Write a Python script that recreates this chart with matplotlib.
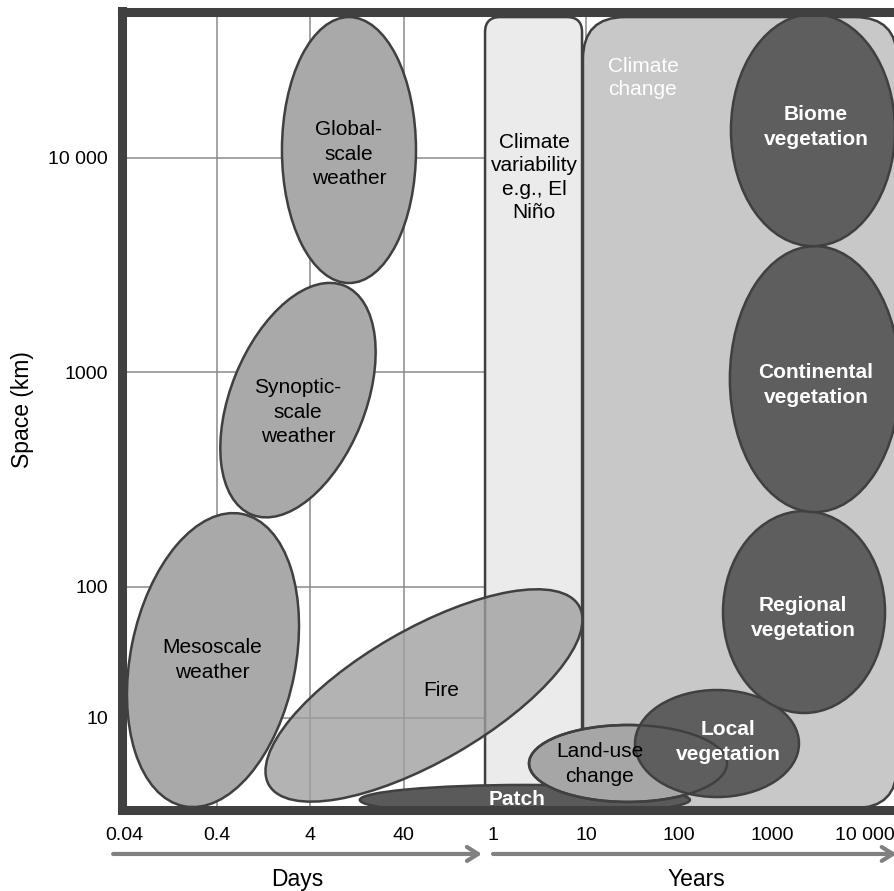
import numpy as np
import matplotlib
matplotlib.use('Agg')
import matplotlib.pyplot as plt
from matplotlib.patches import Ellipse, FancyBboxPatch
from matplotlib.transforms import Affine2D

plt.rcParams['font.family'] = ['Liberation Sans', 'DejaVu Sans']

# time axis: position = decades of days counted from 0.04 days
time_labels = ['0.04', '0.4', '4', '40', '1', '10', '100', '1000', '10 000']
time_days = [0.04, 0.4, 4, 40, 365.25, 3652.5, 36525, 365250, 3652500]
# space axis is only schematic, 10 km sits closer to 100 km than a full decade
space_labels = ['10', '100', '1000', '10 000']
space_pos = [0.39, 1, 2, 3]

# the two climate bands (time decades / space positions)
band_names = ['Climate\nvariability\ne.g., El\nNiño', 'Climate\nchange']
band_left = [3.876, 4.928]
band_right = [4.918, 8.302]
band_bottom = [-0.032, -0.032]
band_top = [3.656, 3.656]
band_text_x = [4.402, 5.573]
band_text_y = [2.908, 3.371]

# processes drawn as ovals
oval_names = ['Global-\nscale\nweather', 'Synoptic-\nscale\nweather', 'Mesoscale\nweather',
              'Patch', 'Fire', 'Land-use\nchange', 'Local\nvegetation',
              'Regional\nvegetation', 'Continental\nvegetation', 'Biome\nvegetation']
oval_x = [2.414, 1.866, 0.953, 4.304, 3.220, 5.412, 6.368, 7.303, 7.420, 7.399]
oval_y = [3.036, 1.870, 0.658, 0.006, 0.493, 0.176, 0.269, 0.882, 1.968, 3.129]
oval_w = [1.440, 2.654, 3.202, 3.546, 3.847, 2.127, 1.762, 1.741, 1.827, 1.762]
oval_h = [2.858, 1.446, 1.773, 0.322, 1.418, 0.827, 1.150, 2.170, 2.858, 2.493]
oval_angle = [0, 68, 78.7, 0, 30, 0, 0, 0, 0, 0]
label_x = [2.414, 1.866, 0.944, 4.220, 3.403, 5.111, 6.486, 7.292, 7.432, 7.432]
label_y = [3.017, 1.814, 0.658, 0.010, 0.515, 0.174, 0.275, 0.854, 1.941, 3.145]

PX_X, PX_Y = 93.07, 214.5   # screen pixels per unit on each axis
EDGE = '#404040'

fig = plt.figure(figsize=(8.95, 8.91), dpi=100)
ax = fig.add_axes([122.5 / 895, 81 / 891, 782.5 / 895, 798.5 / 891])
ax.set_xlim(-0.0193, 8.388)
ax.set_ylim(-0.041, 3.682)

xpos = np.log10(np.array(time_days) / 0.04)
ax.set_xticks(xpos)
ax.set_xticklabels(time_labels, fontsize=14)
ax.set_yticks(space_pos)
ax.set_yticklabels(space_labels, fontsize=14)
ax.tick_params(length=0)
ax.tick_params(axis='x', pad=12)
ax.tick_params(axis='y', pad=10.5)
ax.set_axisbelow(True)
ax.grid(True, color='#8a8a8a', lw=1.1)
for s in ax.spines.values():
    s.set_linewidth(6.5)
    s.set_color(EDGE)
    s.set_zorder(10)


def oval(i, fc, z, fill=True, lw=1.8):
    # sizes are in time-decade units, y squeezed so shapes keep their look on screen
    e = Ellipse((0, 0), oval_w[i], oval_h[i], angle=oval_angle[i],
                facecolor=fc, edgecolor=EDGE, lw=lw, fill=fill, zorder=z)
    e.set_transform(Affine2D().scale(1, PX_X / PX_Y).translate(oval_x[i], oval_y[i]) + ax.transData)
    ax.add_patch(e)


# climate bands
band_fc = ['#ebebeb', '#c8c8c8']
band_r = [0.161, 0.451]
band_tc = ['black', 'white']
for i in range(2):
    b = FancyBboxPatch((band_left[i], band_bottom[i]), band_right[i] - band_left[i],
                       band_top[i] - band_bottom[i],
                       boxstyle='round,pad=0,rounding_size=%f' % band_r[i],
                       mutation_aspect=PX_X / PX_Y,
                       facecolor=band_fc[i], edgecolor=EDGE, lw=1.8, zorder=1)
    ax.add_patch(b)
    ax.text(band_text_x[i], band_text_y[i], band_names[i], ha='center', va='center',
            fontsize=15, color=band_tc[i], linespacing=1.28, zorder=12)

# weather
for i in range(3):
    oval(i, '#a9a9a9', 2)
# patch, fire (see-through), land use
oval(3, '#5a5a5a', 2)
oval(4, (0.62, 0.62, 0.62, 0.78), 3)
oval(5, '#a6a6a6', 3)
# vegetation
for i in range(6, 10):
    oval(i, '#5e5e5e', 4)
# land-use outline stays visible over local vegetation
oval(5, 'none', 5, fill=False)

for i in range(10):
    white = i == 3 or i >= 6
    ax.text(label_x[i], label_y[i], oval_names[i], ha='center', va='center', fontsize=15,
            color='white' if white else 'black', fontweight='bold' if white else 'normal',
            linespacing=1.38, zorder=12)

# time arrows under the axis
arrow = dict(arrowstyle='->,head_length=0.8,head_width=0.5', lw=3, color='#808080',
             shrinkA=0, shrinkB=0)
ax.annotate('', xy=(3.843, -0.246), xytext=(-0.12, -0.246), arrowprops=arrow,
            annotation_clip=False)
ax.annotate('', xy=(8.30, -0.246), xytext=(3.962, -0.246), arrowprops=arrow,
            annotation_clip=False)
ax.text(1.853, -0.363, 'Days', ha='center', va='center', fontsize=16.5, clip_on=False)
ax.text(6.15, -0.363, 'Years', ha='center', va='center', fontsize=16.5, clip_on=False)
fig.text(23 / 895, 1 - 410 / 891, 'Space (km)', rotation=90, ha='center', va='center',
         fontsize=16.5)

fig.savefig('out.png', dpi=100)
